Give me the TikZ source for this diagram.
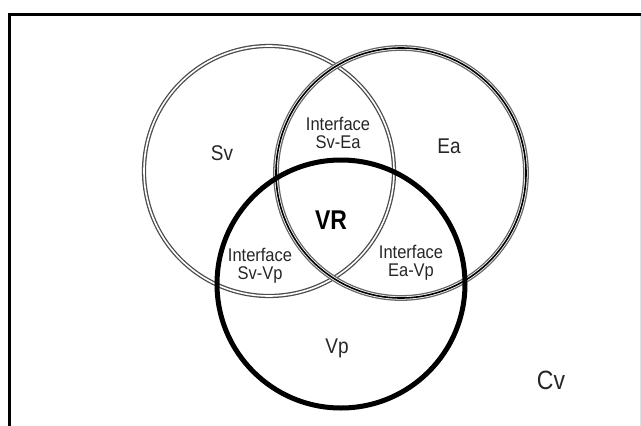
\documentclass[tikz,border=0pt]{standalone}
\usepackage{fontspec}
\setmainfont{Liberation Sans}
\begin{document}
\begin{tikzpicture}[x=1pt,y=-1pt,
  lbl/.style={inner sep=0pt, text=black!85, align=center},
  svring/.style={circle, inner sep=0pt, draw=black!70, line width=1.3pt, double=white, double distance=1.6pt},
  earing/.style={circle, inner sep=0pt, draw=black!60, line width=1.3pt, double=white, double distance=3.2pt, postaction={draw=black, line width=1.6pt}},
  vpring/.style={circle, inner sep=0pt, draw=black, line width=5pt},
  frameline/.style={line width=3pt, draw=black}]
\useasboundingbox (0,0) rectangle (641,426);
% frame
\coordinate (fbl) at (9.5,426);
\coordinate (ftl) at (9.5,14);
\coordinate (ftr) at (641,14);
\draw[frameline] (fbl) -- (ftl) -- (ftr);
\coordinate (rt) at (640,16);
\coordinate (rb) at (640,426);
\draw[black!12, line width=0.8pt] (rt) -- (rb);
% circles
\node[svring, minimum size=250pt] (sv) at (269,171) {};
\node[earing, minimum size=250pt] (ea) at (401,173) {};
\node[vpring, minimum size=248pt] (vp) at (341,284) {};
% labels
\node[lbl, font=\fontsize{19}{19}\selectfont] (tsv) at (222,153) {\scalebox{1}[1.12]{Sv}};
\node[lbl, font=\fontsize{19}{19}\selectfont] (tea) at (449,146) {\scalebox{1}[1.12]{Ea}};
\node[lbl, font=\fontsize{17}{19}\selectfont] (tsvea) at (338,133) {\scalebox{0.97}[1.08]{Interface}\\[-1pt]\scalebox{0.97}[1.08]{Sv-Ea}};
\node[lbl, font=\fontsize{23}{23}\selectfont\bfseries, text=black] (tvr) at (331,220) {\scalebox{1}[1.18]{VR}};
\node[lbl, font=\fontsize{17}{19}\selectfont] (tsvvp) at (260,266) {\scalebox{0.97}[1.08]{Interface}\\[-1pt]\scalebox{0.97}[1.08]{Sv-Vp}};
\node[lbl, font=\fontsize{17}{19}\selectfont] (teavp) at (411,263) {\scalebox{0.97}[1.08]{Interface}\\[-1pt]\scalebox{0.97}[1.08]{Ea-Vp}};
\node[lbl, font=\fontsize{19}{19}\selectfont] (tvp) at (337,348) {\scalebox{1}[1.12]{Vp}};
\node[lbl, font=\fontsize{23}{23}\selectfont] (tcv) at (551,380) {\scalebox{1}[1.15]{Cv}};
\end{tikzpicture}
\end{document}
